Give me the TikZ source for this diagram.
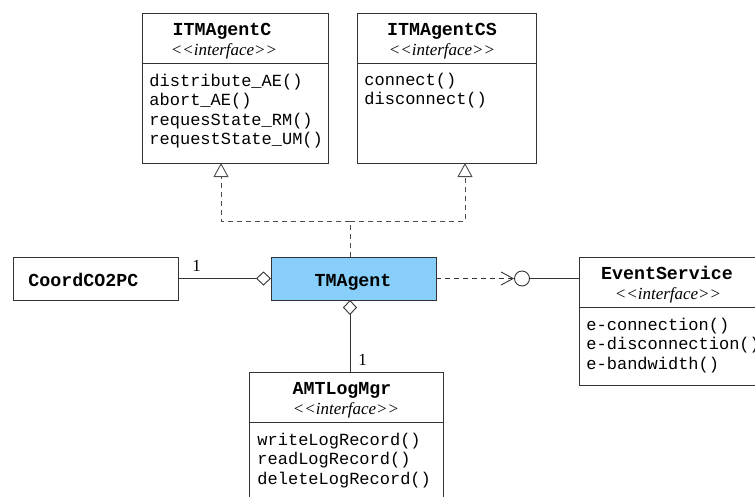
\documentclass[tikz,border=0pt]{standalone}
\usepackage{fontspec}
\setmainfont{Liberation Serif}
\setmonofont{Liberation Mono}
\newfontfamily\stereofont{Liberation Serif}
\usetikzlibrary{arrows.meta}
\definecolor{agentblue}{RGB}{135,206,250}

\begin{document}
\begin{tikzpicture}[x=1pt, y=-1pt, line width=0.9pt,
  classbox/.style={draw=black!80, fill=white, inner sep=0pt, outer sep=0pt},
  cname/.style={anchor=base, inner sep=0pt, font=\fontsize{18.3}{20}\selectfont\ttfamily\bfseries},
  stereo/.style={anchor=base, inner sep=0pt, font=\fontsize{17}{19}\selectfont\stereofont\itshape},
  methods/.style={anchor=base west, inner sep=0pt, align=left, font=\fontsize{17}{19.5}\selectfont\ttfamily},
  mult/.style={inner sep=0pt, font=\fontsize{17}{19}\selectfont},
  sepline/.style={draw=black!80},
  realize/.style={draw=black!70, dash pattern=on 5pt off 4pt, -{Triangle[open, length=14pt, width=15pt, fill=white]}},
  aggr/.style={draw=black!80, -{Diamond[open, length=15pt, width=14pt, fill=white]}},
  depend/.style={draw=black!80, dash pattern=on 5pt off 4pt, -{Straight Barb[length=12pt, width=13pt]}}]
\useasboundingbox (0,0) rectangle (755,496);
\clip (0,0) rectangle (755,496);
% interfaces on top
\node[classbox, minimum width=186pt, minimum height=150pt] (itc) at (235,88) {};
\node[cname] (itcname) at (222,35) {ITMAgentC};
\node[stereo] (itcst) at (224,55) {<<interface>>};
\draw[sepline] ([yshift=-50pt]itc.north west) -- ([yshift=-50pt]itc.north east);
\node[methods] (itcops) at (149,144.5) {distribute\_AE()\\abort\_AE()\\requesState\_RM()\\requestState\_UM()};
\node[classbox, minimum width=179pt, minimum height=150pt] (itcs) at (446.5,88) {};
\node[cname] (itcsname) at (442,35) {ITMAgentCS};
\node[stereo] (itcsst) at (442,55) {<<interface>>};
\draw[sepline] ([yshift=-50pt]itcs.north west) -- ([yshift=-50pt]itcs.north east);
\node[methods] (itcsops) at (364,104.5) {connect()\\disconnect()};
% middle row
\node[classbox, minimum width=165pt, minimum height=43pt] (coord) at (95.5,278.5) {};
\node[cname, anchor=base west] (coordname) at (28,286.5) {CoordCO2PC};
\node[classbox, fill=agentblue, minimum width=165pt, minimum height=43pt] (tm) at (353.5,278.5) {};
\node[cname] (tmname) at (353,286.5) {TMAgent};
\node[circle, draw=black!80, fill=white, minimum size=15pt, inner sep=0pt] (lolli) at (522,278.5) {};
\node[classbox, minimum width=181pt, minimum height=128pt] (evt) at (669.5,321) {};
\node[cname] (evtname) at (667,279) {EventService};
\node[stereo] (evtst) at (668,299) {<<interface>>};
\draw[sepline] ([yshift=-50pt]evt.north west) -- ([yshift=-50pt]evt.north east);
\node[methods] (evtops) at (586,369) {e-connection()\\e-disconnection()\\e-bandwidth()};
% bottom
\node[classbox, minimum width=194pt, minimum height=148pt] (log) at (346,446) {};
\node[cname] (logname) at (342,394) {AMTLogMgr};
\node[stereo] (logst) at (346,414) {<<interface>>};
\draw[sepline] ([yshift=-50pt]log.north west) -- ([yshift=-50pt]log.north east);
\node[methods] (logops) at (257,484) {writeLogRecord()\\readLogRecord()\\deleteLogRecord()};
% connectors
\coordinate (fork) at (350,221);
\draw[realize] (tm.north -| fork) -- (fork) -| ([xshift=79pt]itc.south west);
\draw[realize] (tm.north -| fork) -- (fork) -| ([xshift=108pt]itcs.south west);
\draw[aggr] (coord) -- (tm) node[mult, pos=0.2, anchor=base, yshift=7pt] (coordmult) {1};
\draw[aggr] ([xshift=4pt]log.north) -- ([xshift=4pt]log.north |- tm.south) node[mult, pos=0, anchor=base west, xshift=8pt, yshift=7pt] (logmult) {1};
\draw[depend] (tm) -- (lolli);
\draw[draw=black!80] (lolli) -- (lolli -| evt.west);
\end{tikzpicture}
\end{document}
